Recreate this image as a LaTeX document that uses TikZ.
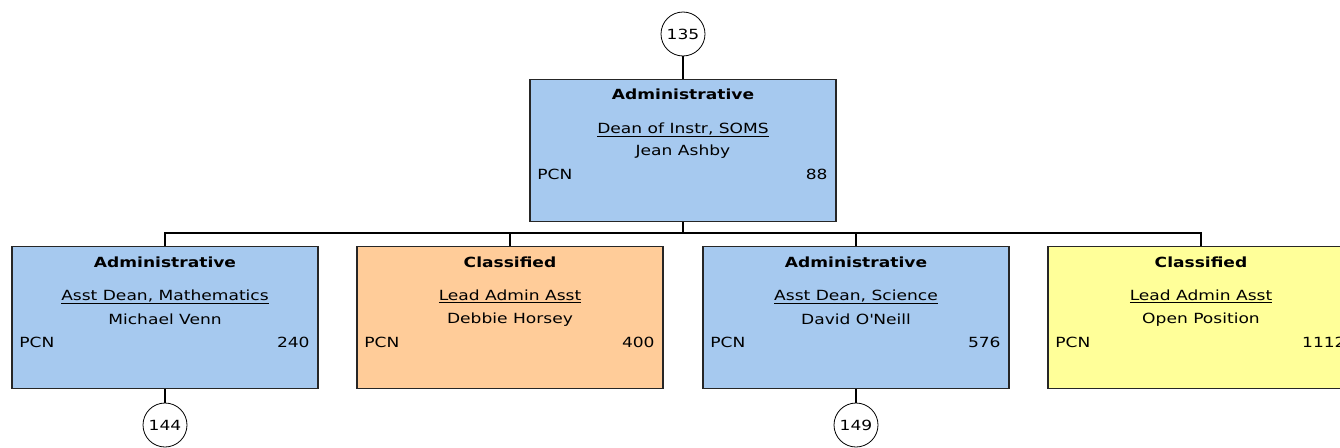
\documentclass[tikz,border=0pt]{standalone}
\usepackage{fontspec}
\setmainfont{DejaVu Sans}[FakeStretch=1.22]

\definecolor{adminblue}{RGB}{166,201,239}
\definecolor{classorange}{RGB}{255,204,153}
\definecolor{classyellow}{RGB}{255,255,153}

\tikzstyle{post} = [rectangle, draw=black!85, line width=1.6pt, minimum width=306pt, minimum height=142pt, inner sep=0pt]
\tikzstyle{ref} = [circle, draw, line width=0.8pt, minimum size=44pt, inner sep=0pt, font=\fontsize{14}{16}\selectfont]
\tikzstyle{head} = [inner sep=0pt, font=\bfseries\fontsize{14}{16}\selectfont]
\tikzstyle{info} = [inner sep=0pt, font=\fontsize{14}{16}\selectfont]
\tikzstyle{link} = [line width=1.6pt]

\begin{document}
\begin{tikzpicture}[x=1pt, y=-1pt]
\useasboundingbox (0,0) rectangle (1340,447);
\clip (0,0) rectangle (1340,447);

% top position
\node[ref] (r135) at (683,34) {135};
\node[post, fill=adminblue] (dean) at (683,150.5) {};
\node[head] at ([yshift=-16pt]dean.north) {Administrative};
\node[info] at ([yshift=-51pt]dean.north) {\underline{Dean of Instr, SOMS}};
\node[info] at ([yshift=-73pt]dean.north) {Jean Ashby};
\node[info, anchor=west] at ([xshift=8pt,yshift=-96pt]dean.north west) {PCN};
\node[info, anchor=east] at ([xshift=-9pt,yshift=-96pt]dean.north east) {88};

% second row
\node[post, fill=adminblue] (math) at (165,317.5) {};
\node[head] at ([yshift=-17pt]math.north) {Administrative};
\node[info] at ([yshift=-51pt]math.north) {\underline{Asst Dean, Mathematics}};
\node[info] at ([yshift=-74pt]math.north) {Michael Venn};
\node[info, anchor=west] at ([xshift=8pt,yshift=-97pt]math.north west) {PCN};
\node[info, anchor=east] at ([xshift=-9pt,yshift=-97pt]math.north east) {240};

\node[post, fill=classorange] (horsey) at (510,317.5) {};
\node[head] at ([yshift=-17pt]horsey.north) {Classified};
\node[info] at ([yshift=-51pt]horsey.north) {\underline{Lead Admin Asst}};
\node[info] at ([yshift=-74pt]horsey.north) {Debbie Horsey};
\node[info, anchor=west] at ([xshift=8pt,yshift=-97pt]horsey.north west) {PCN};
\node[info, anchor=east] at ([xshift=-9pt,yshift=-97pt]horsey.north east) {400};

\node[post, fill=adminblue] (science) at (856,317.5) {};
\node[head] at ([yshift=-17pt]science.north) {Administrative};
\node[info] at ([yshift=-51pt]science.north) {\underline{Asst Dean, Science}};
\node[info] at ([yshift=-74pt]science.north) {David O\textquotesingle Neill};
\node[info, anchor=west] at ([xshift=8pt,yshift=-97pt]science.north west) {PCN};
\node[info, anchor=east] at ([xshift=-9pt,yshift=-97pt]science.north east) {576};

\node[post, fill=classyellow] (open) at (1201,317.5) {};
\node[head] at ([yshift=-17pt]open.north) {Classified};
\node[info] at ([yshift=-51pt]open.north) {\underline{Lead Admin Asst}};
\node[info] at ([yshift=-74pt]open.north) {Open Position};
\node[info, anchor=west] at ([xshift=8pt,yshift=-97pt]open.north west) {PCN};
\node[info, anchor=east] at ([xshift=-9pt,yshift=-97pt]open.north east) {1112};

% references below
\node[ref] (r144) at (165,425) {144};
\node[ref] (r149) at (856,425) {149};

% connectors
\coordinate (bus) at (683,233);
\draw[link] (r135.south) -- (dean.north);
\draw[link] (dean.south) -- (bus);
\draw[link] (bus) -| (math.north);
\draw[link] (bus) -| (horsey.north);
\draw[link] (bus) -| (science.north);
\draw[link] (bus) -| (open.north);
\draw[link] (math.south) -- (r144.north);
\draw[link] (science.south) -- (r149.north);
\end{tikzpicture}
\end{document}
